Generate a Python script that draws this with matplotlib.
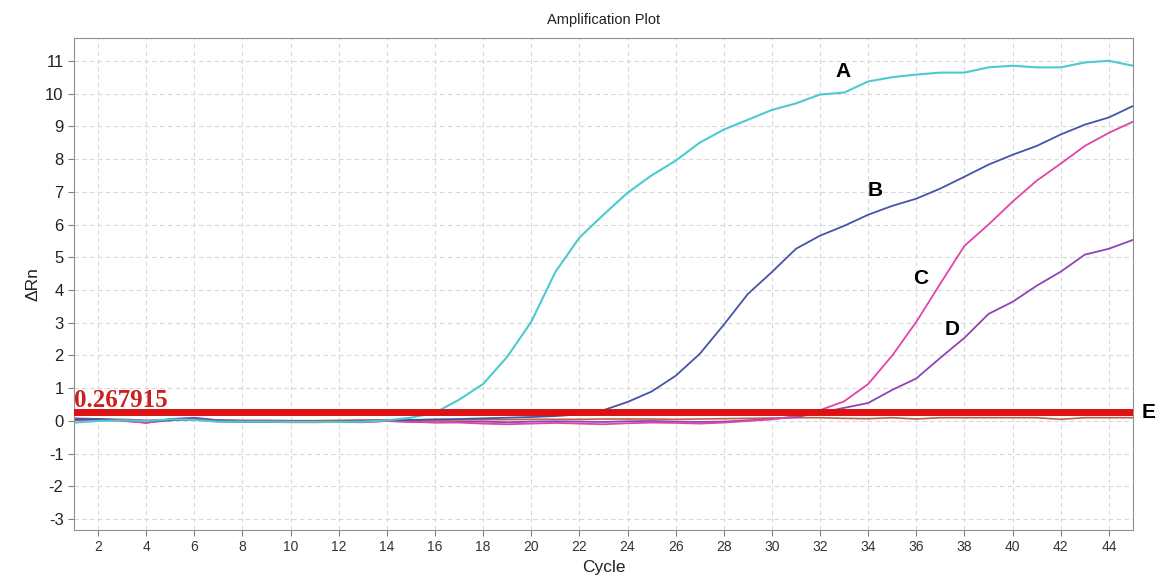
import numpy as np
import matplotlib.pyplot as plt

plt.rcParams['font.family'] = ['Liberation Sans', 'DejaVu Sans']
plt.rcParams['axes.unicode_minus'] = False

# cycle numbers
cycles = np.arange(1, 46)

# delta Rn per sample
sampA = [-0.05, 0.0, 0.02, 0.0, 0.05, 0.03, -0.02, -0.02, -0.02, -0.03,
         -0.03, -0.03, -0.02, 0.02, 0.1, 0.25, 0.65, 1.13, 1.96, 3.03,
         4.55, 5.6, 6.3, 6.97, 7.5, 7.95, 8.5, 8.9, 9.2, 9.5,
         9.7, 9.97, 10.03, 10.37, 10.5, 10.58, 10.64, 10.64, 10.8, 10.85,
         10.8, 10.8, 10.95, 11.0, 10.85]
sampB = [0.05, 0.05, 0.03, 0.0, 0.02, 0.05, 0.0, -0.02, -0.02, -0.03,
         -0.03, -0.02, 0.0, 0.02, 0.03, 0.05, 0.06, 0.08, 0.1, 0.12,
         0.15, 0.2, 0.33, 0.58, 0.9, 1.38, 2.05, 2.94, 3.88, 4.55,
         5.26, 5.66, 5.96, 6.3, 6.57, 6.79, 7.1, 7.46, 7.83, 8.13,
         8.4, 8.75, 9.05, 9.27, 9.62]
sampC = [0.05, 0.03, 0.0, -0.05, 0.02, 0.05, -0.02, -0.03, -0.03, -0.04,
         -0.04, -0.03, -0.04, 0.0, -0.02, -0.05, -0.05, -0.08, -0.1, -0.08,
         -0.06, -0.08, -0.1, -0.07, -0.05, -0.06, -0.08, -0.05, 0.0, 0.05,
         0.15, 0.33, 0.6, 1.13, 2.0, 3.03, 4.2, 5.35, 6.0, 6.7,
         7.34, 7.86, 8.4, 8.8, 9.14]
sampD = [0.08, 0.06, 0.02, -0.06, 0.06, 0.1, 0.02, 0.0, -0.01, -0.02,
         -0.02, -0.03, -0.02, 0.0, -0.03, -0.04, -0.03, -0.02, -0.04, -0.02,
         -0.01, -0.02, -0.03, -0.01, 0.0, -0.02, -0.03, -0.02, 0.02, 0.06,
         0.12, 0.25, 0.4, 0.55, 0.95, 1.3, 1.93, 2.54, 3.27, 3.64,
         4.13, 4.56, 5.08, 5.26, 5.53]
sampE = [0.02, 0.05, 0.05, 0.02, 0.04, 0.06, 0.03, 0.02, 0.02, 0.01,
         0.01, 0.02, 0.03, 0.03, 0.02, 0.02, 0.03, 0.04, 0.04, 0.05,
         0.05, 0.05, 0.06, 0.06, 0.06, 0.05, 0.06, 0.07, 0.08, 0.09,
         0.1, 0.1, 0.08, 0.07, 0.1, 0.06, 0.1, 0.1, 0.1, 0.1,
         0.1, 0.05, 0.1, 0.1, 0.1]

threshold = 0.267915

colA = '#4ccad0'
colB = '#4355a5'
colC = '#e044a8'
colD = '#9044b4'
colE = '#c0604c'

fig = plt.figure(figsize=(11.62, 5.83), dpi=100)
ax = fig.add_axes([0.0637, 0.0909, 0.9113, 0.8441])

ax.plot(cycles, sampE, color=colE, lw=1.2)
ax.plot(cycles, sampD, color=colD, lw=1.3)
ax.plot(cycles, sampC, color=colC, lw=1.3)
ax.plot(cycles, sampB, color=colB, lw=1.3)
ax.plot(cycles, sampA, color=colA, lw=1.5)

# threshold line
ax.axhline(threshold, color='#dd1111', lw=5, zorder=5)
ax.text(1.0, threshold + 0.0, f'{threshold:g}', color='#cc2020',
        fontsize=18, family='Liberation Serif', fontweight='bold',
        va='bottom', ha='left', zorder=4)

# curve labels
lab_kw = dict(fontsize=15, fontweight='bold', color='black', ha='center', va='center')
ax.text(32.95, 10.67, 'A', **lab_kw)
ax.text(34.3, 7.03, 'B', **lab_kw)
ax.text(36.2, 4.34, 'C', **lab_kw)
ax.text(37.5, 2.78, 'D', **lab_kw)
ax.text(45.65, 0.27, 'E', clip_on=False, **lab_kw)

ax.set_xlim(1, 45)
ax.set_ylim(-3.33, 11.7)
ax.set_xticks(np.arange(2, 45, 2))
ax.set_yticks(np.arange(-3, 12, 1))
ax.tick_params(axis='x', labelsize=10, colors='#808080', labelcolor='#333333', length=4)
ax.tick_params(axis='y', labelsize=12, colors='#808080', labelcolor='#222222', length=4)
ax.grid(True, ls=(0, (4, 3)), color='#d8d8d8', lw=0.8)
for s in ax.spines.values():
    s.set_color('#909090')

ax.set_title('Amplification Plot', fontsize=10.5, color='#222222', pad=10)
ax.set_xlabel('Cycle', fontsize=12.5, color='#222222', labelpad=4)
ax.set_ylabel('ΔRn', fontsize=12.5, color='#222222', labelpad=3)

fig.savefig('out.png')
